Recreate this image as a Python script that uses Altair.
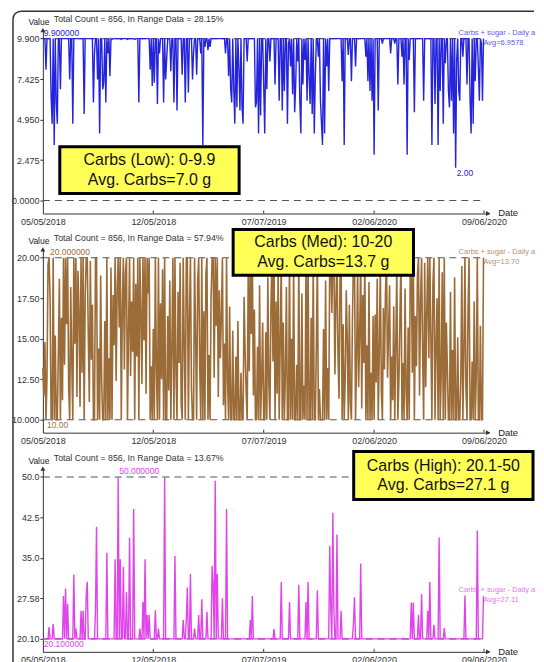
import altair as alt
import numpy as np
import pandas as pd

# Carbs + sugar, daily average (g), one reading every 2 days from 05/05/2018
carbs_2018 = [13.2, 11.5, 14.8, 8.0, 12.6, 19.6, 22.3, 17.4, 6.3, 4.7,
              22.9, 3.4, 15.2, 6.0, 4.7, 14.1, 18.7, 6.8, 16.3, 11.2,
              28.0, 13.4, 29.4, 15.9, 26.6, 12.1, 7.4, 18.2, 13.6, 4.7,
              32.0, 14.7, 22.0, 11.4, 19.2, 16.8, 10.8, 25.3, 12.9, 25.3,
              5.3, 17.6, 28.0, 30.6, 15.3, 11.1, 19.8, 13.7, 17.1, 6.0,
              9.0, 25.3, 40.8, 7.4, 14.4, 4.1, 18.9, 12.3, 6.8, 7.2,
              16.1, 6.0, 36.0, 9.0, 13.8, 7.6, 19.4, 9.85, 17.7, 14.6,
              34.8, 12.4, 18.1, 50.0, 15.7, 34.8, 9.85, 16.9, 33.4, 13.1,
              19.1, 28.7, 9.85, 15.4, 38.8, 12.7, 17.3, 14.2, 44.1, 9.85,
              18.4, 13.9, 20.0, 6.0, 22.0, 16.6, 12.2, 26.9, 14.9, 34.8,
              11.6, 24.5, 17.8, 24.5, 8.0, 13.3, 7.0]
carbs_2019a = [15.6, 7.2, 25.4, 13.1, 5.9, 22.0, 9.0, 17.2, 12.5, 19.3,
               6.0, 50.0, 7.4, 8.7, 16.4, 11.8, 18.6, 7.9, 14.3, 20.0,
               6.0, 35.4, 12.8, 5.5, 17.9, 13.5, 19.7, 11.0, 7.7, 23.6,
               14.6, 6.0, 23.6, 29.6, 6.6, 16.2, 32.1, 12.0, 7.4, 9.0,
               22.0, 15.1, 7.7, 18.5, 24.5, 13.3, 9.0, 27.4, 3.4, 16.7,
               9.4, 19.0, 25.1, 9.2, 14.0, 9.4, 17.5, 33.6, 30.2, 12.6,
               49.3, 15.8, 32.1, 11.4, 18.0, 13.8, 16.5, 27.6, 10.9, 14.7,
               9.0, 44.1, 12.3, 7.6, 17.0, 6.8, 6.0, 15.5, 6.8, 4.7,
               13.9, 5.7, 16.1, 8.1, 5.5, 12.9, 5.7, 4.7, 17.6, 14.2,
               11.7, 8.5, 19.1, 13.0, 23.6, 15.3, 28.0, 11.5, 16.8, 5.7,
               6.0, 14.5, 4.1, 18.3, 5.2, 12.4, 16.0]
carbs_2019b = [7.0, 4.1, 15.4, 6.8, 18.8, 12.2, 8.5, 16.9, 20.0, 13.6,
               21.9, 7.1, 17.3, 11.6, 19.5, 6.1, 14.8, 30.6, 5.5, 16.0,
               6.7, 12.7, 18.2, 4.7, 9.6, 26.9, 8.2, 15.0, 6.5, 19.6,
               5.4, 7.1, 13.4, 8.5, 30.1, 6.1, 4.1, 17.8, 7.1, 12.1,
               8.6, 26.9, 6.1, 30.6, 7.5, 5.9, 16.3, 5.3, 19.9, 4.1,
               7.5, 14.4, 29.1, 8.8, 11.9, 6.1, 4.7, 3.4, 15.6, 4.1,
               18.6, 8.2, 13.2, 6.7, 37.3, 25.7, 16.6, 43.4, 25.7, 12.8,
               17.4, 39.4, 14.0, 11.3, 19.2, 25.3, 7.3, 15.9, 3.4, 12.6,
               18.0, 14.9, 8.9, 17.1, 11.0, 7.3, 16.2, 23.0, 27.8, 8.2,
               13.7, 19.4, 12.0, 15.2, 34.0, 10.7, 17.7, 13.5, 20.0, 8.8,
               14.6, 7.3, 18.5, 6.7, 12.9, 6.1, 16.4]
carbs_2020 = [2.8, 16.5, 12.3, 18.7, 5.5, 14.2, 19.6, 11.8, 9.6, 16.9,
              13.1, 17.8, 20.0, 12.6, 15.4, 18.3, 9.0, 13.9, 11.2, 17.0,
              9.6, 14.8, 19.3, 7.1, 12.4, 16.2, 20.0, 8.8, 13.5, 7.1,
              18.1, 11.7, 2.8, 15.7, 8.6, 19.0, 26.8, 12.9, 26.8, 5.4,
              16.4, 13.3, 18.9, 24.5, 11.5, 17.2, 28.4, 14.1, 6.1, 19.7,
              12.0, 16.6, 25.3, 13.8, 30.6, 15.0, 3.4, 18.4, 22.7, 5.9,
              14.6, 17.5, 3.4, 38.8, 6.7, 12.7, 19.1, 4.7, 22.1, 8.4,
              16.0, 13.2, 6.7, 5.7, 17.9, 6.1, 14.3, 4.1, 18.8, 2.0,
              8.6, 15.1, 6.7, 6.1, 12.5, 19.5, 8.8, 14.0, 28.1, 11.9,
              7.1, 16.7, 20.0, 6.1, 4.1, 13.6, 4.7, 17.3, 7.3, 12.8,
              40.1, 8.2, 6.1, 15.8, 9.6, 6.1, 28.0]

start_date = "2018-05-05"
step_days = 2
tick_dates = ["2018-05-05", "2018-12-05", "2019-07-07", "2020-02-06", "2020-09-06"]
axis_end_date = "2020-09-16"

panel_lo = [0.0, 10.0, 20.1]
panel_hi = [9.9, 20.0, 50.0]
y_tick_labels = [
    ["0.0000", "2.475", "4.950", "7.425", "9.900"],
    ["10.000", "12.50", "15.00", "17.50", "20.00"],
    ["20.10", "27.58", "35.0", "42.5", "50.0"],
]
total_count = 856
in_range_pct = ["28.15%", "57.94%", "13.67%"]
max_labels = ["9.900000", "20.000000", "50.000000"]
min_labels = ["2.00", "10.00", "20.100000"]
series_name = "Carbs + sugar - Daily avg"
avg_labels = ["Avg=6.9578", "Avg=13.70", "Avg=27.11"]
box_titles = ["Carbs (Low): 0-9.9", "Carbs (Med): 10-20", "Carbs (High): 20.1-50"]
box_avgs = ["Avg. Carbs=7.0 g", "Avg. Carbs=13.7 g", "Avg. Carbs=27.1 g"]

# ---- styling / layout ----
colors = ["#2424dc", "#9c6c38", "#e044ea"]
stroke_w = [1.4, 1.6, 1.4]
W, H = 448, 185
FONT = "Liberation Sans"
AX = "#333333"
box_pos = [(17, 197, 118, 165), (191, 372, -19, 27), (312, 492, -16, 32)]

carbs = carbs_2018 + carbs_2019a + carbs_2019b + carbs_2020
dates = pd.date_range(start_date, periods=len(carbs), freq=f"{step_days}D")
date_str = list(dates.strftime("%Y-%m-%d"))
df = pd.DataFrame({"date": date_str, "carbs": carbs})
one = pd.DataFrame({"k": [0]})


def dt(s):
    y, m, d = map(int, s.split("-"))
    return alt.DateTime(year=y, month=m, date=d, utc=True)


xscale = alt.Scale(type="utc", domain=[dt(start_date), dt(axis_end_date)], nice=False)
xaxis = alt.Axis(values=[dt(s) for s in tick_dates],
                 labelExpr="utcFormat(datum.value, '%m/%d/%Y')",
                 title=None, ticks=False, grid=False, labelFlush=False,
                 labelOverlap=False, labelPadding=4, labelFontSize=9,
                 labelColor=AX, labelFont=FONT, domainColor=AX)


def panel(k):
    lo, hi = panel_lo[k], panel_hi[k]
    span = hi - lo
    dom = [lo - span * 13 / 163, hi + span * 9.5 / 163]
    step = span / 4
    tvals = [round(lo + step * t, 6) for t in range(5)]
    labels_js = "[" + ",".join(f"'{s}'" for s in y_tick_labels[k]) + "]"
    yscale = alt.Scale(domain=dom, nice=False, zero=False)
    yaxis = alt.Axis(values=tvals,
                     labelExpr=f"{labels_js}[round((datum.value - ({lo})) / {step})]",
                     title=None, grid=False, tickSize=3, tickColor=AX,
                     labelPadding=1, labelFontSize=9, labelColor=AX,
                     labelFont=FONT, domainColor=AX, labelOverlap=False)

    def X(f):
        return alt.X(f"{f}:T", scale=xscale, axis=xaxis)

    def Y(f):
        return alt.Y(f"{f}:Q", scale=yscale, axis=yaxis)

    col = colors[k]
    clamped = np.clip(np.array(carbs, dtype=float), lo, hi)
    vmax, vmin = float(clamped.max()), float(clamped.min())
    imax = int(np.argmax(clamped >= vmax))
    imin = int(np.argmax(clamped <= vmin))

    rules_df = pd.DataFrame({"d1": [date_str[0]] * 2, "d2": [date_str[-1]] * 2,
                             "val": [lo, hi]})
    rules = alt.Chart(rules_df).mark_rule(strokeDash=[7, 5], color="#555555",
                                          strokeWidth=1.1).encode(
        x=X("d1"), x2="d2:T", y=Y("val"))

    line = alt.Chart(df).transform_calculate(
        v=f"clamp(datum.carbs, {lo}, {hi})"
    ).mark_line(color=col, strokeWidth=stroke_w[k]).encode(x=X("date"), y=Y("v"))

    ticks_df = pd.DataFrame({"date": tick_dates[1:]})
    ticks = alt.Chart(ticks_df).mark_rule(color=AX, strokeWidth=1).encode(
        x=X("date"), y=alt.value(H - 3), y2=alt.value(H))

    max_df = pd.DataFrame({"date": [date_str[imax]], "val": [vmax], "t": [max_labels[k]]})
    min_df = pd.DataFrame({"date": [date_str[imin]], "val": [vmin], "t": [min_labels[k]]})
    max_lab = alt.Chart(max_df).mark_text(align="left", baseline="middle", dx=1, dy=-6,
                                          fontSize=8.5, font=FONT, color=col).encode(
        x=X("date"), y=Y("val"), text="t:N")
    min_lab = alt.Chart(min_df).mark_text(align="left", baseline="middle", dx=1, dy=5,
                                          fontSize=8.5, font=FONT, color=col).encode(
        x=X("date"), y=Y("val"), text="t:N")

    end_df = pd.DataFrame({"date": [date_str[-1]], "val": [float(clamped[-1])],
                           "n": [series_name], "a": [avg_labels[k]]})
    end_name = alt.Chart(end_df).mark_text(align="left", baseline="middle", dx=-25, dy=-6,
                                           fontSize=7.5, font=FONT, color=col,
                                           opacity=0.75, limit=77,
                                           ellipsis="\u200b").encode(
        x=X("date"), y=Y("val"), text="n:N")
    end_avg = alt.Chart(end_df).mark_text(align="left", baseline="middle", dx=0, dy=4,
                                          fontSize=7.5, font=FONT, color=col,
                                          opacity=0.75).encode(
        x=X("date"), y=Y("val"), text="a:N")

    up_arrow = alt.Chart(one).mark_point(shape="triangle-up", filled=True, size=24,
                                         color=AX, opacity=1).encode(
        x=alt.value(0), y=alt.value(1))
    right_arrow = alt.Chart(one).mark_point(shape="triangle-right", filled=True, size=24,
                                            color=AX, opacity=1).encode(
        x=alt.value(W - 1), y=alt.value(H))

    value_t = alt.Chart(one).mark_text(align="center", baseline="middle", fontSize=8.5,
                                       font=FONT, color="#222222").encode(
        x=alt.value(-4), y=alt.value(-7), text=alt.value("Value"))
    date_t = alt.Chart(one).mark_text(align="left", baseline="middle", fontSize=9.5,
                                      font=FONT, color="#222222").encode(
        x=alt.value(W + 9), y=alt.value(H), text=alt.value("Date"))
    count_t = alt.Chart(one).mark_text(align="left", baseline="middle", fontSize=8.8,
                                       font=FONT, color="#333333").encode(
        x=alt.value(11), y=alt.value(-10),
        text=alt.value(f"Total Count = {total_count}, In Range Data = {in_range_pct[k]}"))

    bx0, bx1, by0, by1 = box_pos[k]
    bcx, bcy = (bx0 + bx1) / 2, (by0 + by1) / 2
    box = alt.Chart(one).mark_rect(color="#ffff58", stroke="#000000", strokeWidth=3).encode(
        x=alt.value(bx0), x2=alt.value(bx1), y=alt.value(by0), y2=alt.value(by1))
    box_t1 = alt.Chart(one).mark_text(align="center", baseline="middle", fontSize=16,
                                      font=FONT, color="#111111").encode(
        x=alt.value(bcx), y=alt.value(bcy - 10), text=alt.value(box_titles[k]))
    box_t2 = alt.Chart(one).mark_text(align="center", baseline="middle", fontSize=16,
                                      font=FONT, color="#111111").encode(
        x=alt.value(bcx), y=alt.value(bcy + 10), text=alt.value(box_avgs[k]))

    layers = [rules, line, ticks, max_lab, min_lab, end_name, end_avg,
              up_arrow, right_arrow, value_t, date_t, count_t, box, box_t1, box_t2]
    if k == 0:
        fr = dict(color="#333333", strokeWidth=1.5)
        top_line = alt.Chart(one).mark_rule(**fr).encode(
            x=alt.value(-22), x2=alt.value(493), y=alt.value(-18))
        left_line = alt.Chart(one).mark_rule(**fr).encode(
            x=alt.value(-30), y=alt.value(-10), y2=alt.value(650))
        corner = alt.Chart(one).mark_arc(color="#333333", innerRadius=7.25,
                                         outerRadius=8.75, theta=4.712389,
                                         theta2=6.283185).encode(
            x=alt.value(-22), y=alt.value(-10))
        layers = [top_line, left_line, corner] + layers
    return alt.layer(*layers).properties(width=W, height=H)


chart = alt.vconcat(panel(0), panel(1), panel(2), spacing=35, bounds="flush").properties(
    padding={"left": 3, "top": 1, "right": 0, "bottom": 0}
).configure_view(strokeWidth=0)

chart.save("out.html", embed_options={"renderer": "svg", "actions": False})
